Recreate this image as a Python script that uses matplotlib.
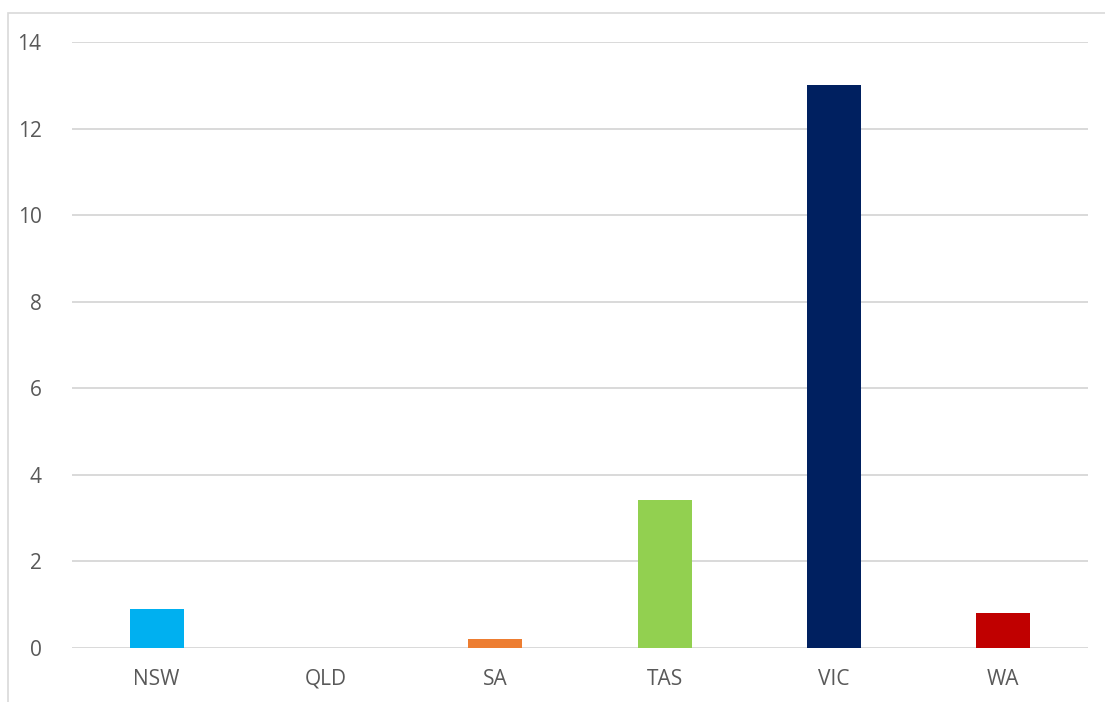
import matplotlib.pyplot as plt
from matplotlib.patches import Rectangle

states = ["NSW", "QLD", "SA", "TAS", "VIC", "WA"]
values = [0.9, 0.0, 0.2, 3.42, 13.0, 0.8]
colors = ["#00B0F0", "#00B0F0", "#ED7D31", "#92D050", "#002060", "#C00000"]
yticks = [0, 2, 4, 6, 8, 10, 12, 14]

W, H = 1105, 702
fig = plt.figure(figsize=(W / 100, H / 100), dpi=100)
plt.rcParams['font.family'] = ['Open Sans', 'DejaVu Sans']

# chart area border (partly cropped in the original)
fig.patches.append(Rectangle((8 / W, -0.1), 1.2, 1 - 13 / H + 0.1,
                             transform=fig.transFigure, fill=False,
                             edgecolor="#D9D9D9", linewidth=1.2))

ax = fig.add_axes([72 / W, 1 - 648 / H, (1088 - 72) / W, (648 - 42) / H])
x = range(len(states))
ax.bar(x, values, width=0.32, color=colors, zorder=3)

ax.set_xlim(-0.5, len(states) - 0.5)
ax.set_ylim(0, 14)
ax.set_yticks(yticks)
ax.set_xticks(list(x))
ax.set_xticklabels(states)
ax.grid(axis="y", color="#D9D9D9", linewidth=1.4, zorder=0)
ax.set_axisbelow(True)
for s in ax.spines.values():
    s.set_visible(False)
ax.tick_params(axis="both", length=0, labelsize=15, colors="#595959")
ax.tick_params(axis="y", pad=22)
ax.tick_params(axis="x", pad=15)

fig.savefig("out.png", dpi=100)
